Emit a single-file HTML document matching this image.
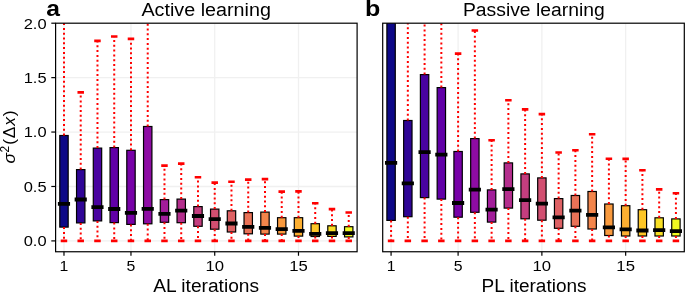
<!DOCTYPE html>
<html><head><meta charset="utf-8"><style>
html,body{margin:0;padding:0;background:#fff;}
svg{display:block;will-change:transform;}
text{font-family:"Liberation Sans",sans-serif;fill:#000;}
.g{stroke:#f0f0f0;stroke-width:1.3;}
.b{stroke:#000;stroke-width:1.2;}
.w{stroke:#ff0000;stroke-width:2.0;stroke-dasharray:2.0 2.8;}
.c{stroke:#ff0000;stroke-width:2.6;}
.m{stroke:#000;stroke-width:3.8;}
.s{fill:none;stroke:#000;stroke-width:1.2;}
.t{stroke:#000;stroke-width:1.2;}
.tl{font-size:14.7px;}
.ti{font-size:17.6px;}
.pl{font-size:22.5px;font-weight:bold;}
.yl text{font-size:17.4px;text-anchor:middle;}
</style></head><body>
<svg width="685" height="292" viewBox="0 0 685 292">
<rect width="685" height="292" fill="#fff"/>
<clipPath id="ca"><rect x="55.60" y="23.2" width="301.50" height="228.55"/></clipPath>
<g clip-path="url(#ca)">
<line x1="63.98" y1="23.2" x2="63.98" y2="251.75" class="g"/>
<line x1="130.97" y1="23.2" x2="130.97" y2="251.75" class="g"/>
<line x1="214.72" y1="23.2" x2="214.72" y2="251.75" class="g"/>
<line x1="298.48" y1="23.2" x2="298.48" y2="251.75" class="g"/>
<line x1="55.60" y1="240.90" x2="357.10" y2="240.90" class="g"/>
<line x1="55.60" y1="186.48" x2="357.10" y2="186.48" class="g"/>
<line x1="55.60" y1="132.05" x2="357.10" y2="132.05" class="g"/>
<line x1="55.60" y1="77.63" x2="357.10" y2="77.63" class="g"/>
<rect x="59.79" y="135.50" width="8.38" height="91.60" fill="#0d0887" class="b"/>
<line x1="63.98" y1="135.50" x2="63.98" y2="18.20" class="w"/>
<line x1="63.98" y1="227.10" x2="63.98" y2="240.90" class="w"/>
<line x1="60.73" y1="240.90" x2="67.22" y2="240.90" class="c"/>
<rect x="76.54" y="169.60" width="8.38" height="53.30" fill="#2f0596" class="b"/>
<line x1="80.72" y1="169.60" x2="80.72" y2="92.40" class="w"/>
<line x1="80.72" y1="222.90" x2="80.72" y2="240.90" class="w"/>
<line x1="77.47" y1="92.40" x2="83.97" y2="92.40" class="c"/>
<line x1="77.47" y1="240.90" x2="83.97" y2="240.90" class="c"/>
<rect x="93.29" y="148.10" width="8.38" height="72.80" fill="#4903a0" class="b"/>
<line x1="97.47" y1="148.10" x2="97.47" y2="40.90" class="w"/>
<line x1="97.47" y1="220.90" x2="97.47" y2="240.90" class="w"/>
<line x1="94.22" y1="40.90" x2="100.72" y2="40.90" class="c"/>
<line x1="94.22" y1="240.90" x2="100.72" y2="240.90" class="c"/>
<rect x="110.04" y="147.60" width="8.38" height="75.00" fill="#6100a7" class="b"/>
<line x1="114.22" y1="147.60" x2="114.22" y2="36.50" class="w"/>
<line x1="114.22" y1="222.60" x2="114.22" y2="240.90" class="w"/>
<line x1="110.97" y1="36.50" x2="117.47" y2="36.50" class="c"/>
<line x1="110.97" y1="240.90" x2="117.47" y2="240.90" class="c"/>
<rect x="126.79" y="150.30" width="8.38" height="74.10" fill="#7801a8" class="b"/>
<line x1="130.97" y1="150.30" x2="130.97" y2="38.90" class="w"/>
<line x1="130.97" y1="224.40" x2="130.97" y2="240.90" class="w"/>
<line x1="127.72" y1="38.90" x2="134.22" y2="38.90" class="c"/>
<line x1="127.72" y1="240.90" x2="134.22" y2="240.90" class="c"/>
<rect x="143.54" y="126.50" width="8.38" height="97.30" fill="#8e0ca4" class="b"/>
<line x1="147.72" y1="126.50" x2="147.72" y2="18.20" class="w"/>
<line x1="147.72" y1="223.80" x2="147.72" y2="240.90" class="w"/>
<line x1="144.47" y1="240.90" x2="150.97" y2="240.90" class="c"/>
<rect x="160.29" y="199.60" width="8.38" height="22.70" fill="#a21d9a" class="b"/>
<line x1="164.47" y1="199.60" x2="164.47" y2="165.60" class="w"/>
<line x1="164.47" y1="222.30" x2="164.47" y2="240.90" class="w"/>
<line x1="161.22" y1="165.60" x2="167.72" y2="165.60" class="c"/>
<line x1="161.22" y1="240.90" x2="167.72" y2="240.90" class="c"/>
<rect x="177.04" y="199.10" width="8.38" height="23.60" fill="#b42e8d" class="b"/>
<line x1="181.22" y1="199.10" x2="181.22" y2="163.60" class="w"/>
<line x1="181.22" y1="222.70" x2="181.22" y2="240.90" class="w"/>
<line x1="177.97" y1="163.60" x2="184.47" y2="163.60" class="c"/>
<line x1="177.97" y1="240.90" x2="184.47" y2="240.90" class="c"/>
<rect x="193.79" y="206.60" width="8.38" height="19.70" fill="#c43e7f" class="b"/>
<line x1="197.97" y1="206.60" x2="197.97" y2="177.20" class="w"/>
<line x1="197.97" y1="226.30" x2="197.97" y2="240.90" class="w"/>
<line x1="194.72" y1="177.20" x2="201.22" y2="177.20" class="c"/>
<line x1="194.72" y1="240.90" x2="201.22" y2="240.90" class="c"/>
<rect x="210.54" y="209.10" width="8.38" height="20.10" fill="#d24f71" class="b"/>
<line x1="214.72" y1="209.10" x2="214.72" y2="182.60" class="w"/>
<line x1="214.72" y1="229.20" x2="214.72" y2="240.90" class="w"/>
<line x1="211.47" y1="182.60" x2="217.97" y2="182.60" class="c"/>
<line x1="211.47" y1="240.90" x2="217.97" y2="240.90" class="c"/>
<rect x="227.29" y="210.80" width="8.38" height="21.20" fill="#de6164" class="b"/>
<line x1="231.47" y1="210.80" x2="231.47" y2="181.70" class="w"/>
<line x1="231.47" y1="232.00" x2="231.47" y2="240.90" class="w"/>
<line x1="228.22" y1="181.70" x2="234.72" y2="181.70" class="c"/>
<line x1="228.22" y1="240.90" x2="234.72" y2="240.90" class="c"/>
<rect x="244.04" y="212.60" width="8.38" height="21.20" fill="#e97257" class="b"/>
<line x1="248.22" y1="212.60" x2="248.22" y2="179.60" class="w"/>
<line x1="248.22" y1="233.80" x2="248.22" y2="240.90" class="w"/>
<line x1="244.97" y1="179.60" x2="251.47" y2="179.60" class="c"/>
<line x1="244.97" y1="240.90" x2="251.47" y2="240.90" class="c"/>
<rect x="260.79" y="212.10" width="8.38" height="22.00" fill="#f3854b" class="b"/>
<line x1="264.98" y1="212.10" x2="264.98" y2="179.10" class="w"/>
<line x1="264.98" y1="234.10" x2="264.98" y2="240.90" class="w"/>
<line x1="261.73" y1="179.10" x2="268.23" y2="179.10" class="c"/>
<line x1="261.73" y1="240.90" x2="268.23" y2="240.90" class="c"/>
<rect x="277.54" y="217.70" width="8.38" height="16.40" fill="#f99a3e" class="b"/>
<line x1="281.73" y1="217.70" x2="281.73" y2="191.60" class="w"/>
<line x1="281.73" y1="234.10" x2="281.73" y2="240.90" class="w"/>
<line x1="278.48" y1="191.60" x2="284.98" y2="191.60" class="c"/>
<line x1="278.48" y1="240.90" x2="284.98" y2="240.90" class="c"/>
<rect x="294.29" y="217.70" width="8.38" height="18.40" fill="#fdaf31" class="b"/>
<line x1="298.48" y1="217.70" x2="298.48" y2="191.40" class="w"/>
<line x1="298.48" y1="236.10" x2="298.48" y2="240.90" class="w"/>
<line x1="295.23" y1="191.40" x2="301.73" y2="191.40" class="c"/>
<line x1="295.23" y1="240.90" x2="301.73" y2="240.90" class="c"/>
<rect x="311.04" y="223.70" width="8.38" height="12.80" fill="#fdc627" class="b"/>
<line x1="315.23" y1="223.70" x2="315.23" y2="203.20" class="w"/>
<line x1="315.23" y1="236.50" x2="315.23" y2="240.90" class="w"/>
<line x1="311.98" y1="203.20" x2="318.48" y2="203.20" class="c"/>
<line x1="311.98" y1="240.90" x2="318.48" y2="240.90" class="c"/>
<rect x="327.79" y="225.80" width="8.38" height="10.60" fill="#f8df25" class="b"/>
<line x1="331.98" y1="225.80" x2="331.98" y2="209.10" class="w"/>
<line x1="331.98" y1="236.40" x2="331.98" y2="240.90" class="w"/>
<line x1="328.73" y1="209.10" x2="335.23" y2="209.10" class="c"/>
<line x1="328.73" y1="240.90" x2="335.23" y2="240.90" class="c"/>
<rect x="344.54" y="226.70" width="8.38" height="10.20" fill="#f0f921" class="b"/>
<line x1="348.73" y1="226.70" x2="348.73" y2="212.50" class="w"/>
<line x1="348.73" y1="236.90" x2="348.73" y2="240.90" class="w"/>
<line x1="345.48" y1="212.50" x2="351.98" y2="212.50" class="c"/>
<line x1="345.48" y1="240.90" x2="351.98" y2="240.90" class="c"/>
<line x1="57.89" y1="203.90" x2="70.06" y2="203.90" class="m"/>
<line x1="74.64" y1="199.50" x2="86.81" y2="199.50" class="m"/>
<line x1="91.39" y1="207.10" x2="103.56" y2="207.10" class="m"/>
<line x1="108.14" y1="209.00" x2="120.31" y2="209.00" class="m"/>
<line x1="124.89" y1="212.90" x2="137.06" y2="212.90" class="m"/>
<line x1="141.64" y1="208.90" x2="153.81" y2="208.90" class="m"/>
<line x1="158.39" y1="213.90" x2="170.56" y2="213.90" class="m"/>
<line x1="175.14" y1="210.70" x2="187.31" y2="210.70" class="m"/>
<line x1="191.89" y1="216.00" x2="204.06" y2="216.00" class="m"/>
<line x1="208.64" y1="219.20" x2="220.81" y2="219.20" class="m"/>
<line x1="225.39" y1="223.50" x2="237.56" y2="223.50" class="m"/>
<line x1="242.14" y1="226.90" x2="254.31" y2="226.90" class="m"/>
<line x1="258.89" y1="227.90" x2="271.06" y2="227.90" class="m"/>
<line x1="275.64" y1="229.10" x2="287.81" y2="229.10" class="m"/>
<line x1="292.39" y1="230.80" x2="304.56" y2="230.80" class="m"/>
<line x1="309.14" y1="233.80" x2="321.31" y2="233.80" class="m"/>
<line x1="325.89" y1="233.10" x2="338.06" y2="233.10" class="m"/>
<line x1="342.64" y1="233.10" x2="354.81" y2="233.10" class="m"/>
</g>
<rect x="55.60" y="23.2" width="301.50" height="228.55" class="s"/>
<line x1="63.98" y1="251.75" x2="63.98" y2="255.75" class="t"/>
<text x="63.98" y="271" class="tl" text-anchor="middle" textLength="8.8" lengthAdjust="spacingAndGlyphs">1</text>
<line x1="130.97" y1="251.75" x2="130.97" y2="255.75" class="t"/>
<text x="130.97" y="271" class="tl" text-anchor="middle" textLength="8.8" lengthAdjust="spacingAndGlyphs">5</text>
<line x1="214.72" y1="251.75" x2="214.72" y2="255.75" class="t"/>
<text x="214.72" y="271" class="tl" text-anchor="middle" textLength="18.6" lengthAdjust="spacingAndGlyphs">10</text>
<line x1="298.48" y1="251.75" x2="298.48" y2="255.75" class="t"/>
<text x="298.48" y="271" class="tl" text-anchor="middle" textLength="18.6" lengthAdjust="spacingAndGlyphs">15</text>
<clipPath id="cb"><rect x="382.70" y="23.2" width="301.60" height="228.55"/></clipPath>
<g clip-path="url(#cb)">
<line x1="391.08" y1="23.2" x2="391.08" y2="251.75" class="g"/>
<line x1="458.10" y1="23.2" x2="458.10" y2="251.75" class="g"/>
<line x1="541.88" y1="23.2" x2="541.88" y2="251.75" class="g"/>
<line x1="625.66" y1="23.2" x2="625.66" y2="251.75" class="g"/>
<rect x="386.89" y="18.50" width="8.38" height="201.90" fill="#0d0887" class="b"/>
<line x1="391.08" y1="18.50" x2="391.08" y2="18.20" class="w"/>
<line x1="391.08" y1="220.40" x2="391.08" y2="240.90" class="w"/>
<line x1="387.83" y1="240.90" x2="394.33" y2="240.90" class="c"/>
<rect x="403.64" y="120.50" width="8.38" height="96.20" fill="#2f0596" class="b"/>
<line x1="407.83" y1="120.50" x2="407.83" y2="18.20" class="w"/>
<line x1="407.83" y1="216.70" x2="407.83" y2="240.90" class="w"/>
<line x1="404.58" y1="240.90" x2="411.08" y2="240.90" class="c"/>
<rect x="420.40" y="74.60" width="8.38" height="123.00" fill="#4903a0" class="b"/>
<line x1="424.59" y1="74.60" x2="424.59" y2="18.20" class="w"/>
<line x1="424.59" y1="197.60" x2="424.59" y2="240.90" class="w"/>
<line x1="421.34" y1="240.90" x2="427.84" y2="240.90" class="c"/>
<rect x="437.16" y="87.60" width="8.38" height="111.50" fill="#6100a7" class="b"/>
<line x1="441.34" y1="87.60" x2="441.34" y2="18.20" class="w"/>
<line x1="441.34" y1="199.10" x2="441.34" y2="240.90" class="w"/>
<line x1="438.09" y1="240.90" x2="444.59" y2="240.90" class="c"/>
<rect x="453.91" y="151.50" width="8.38" height="65.70" fill="#7801a8" class="b"/>
<line x1="458.10" y1="151.50" x2="458.10" y2="53.60" class="w"/>
<line x1="458.10" y1="217.20" x2="458.10" y2="240.90" class="w"/>
<line x1="454.85" y1="53.60" x2="461.35" y2="53.60" class="c"/>
<line x1="454.85" y1="240.90" x2="461.35" y2="240.90" class="c"/>
<rect x="470.67" y="138.60" width="8.38" height="73.70" fill="#8e0ca4" class="b"/>
<line x1="474.86" y1="138.60" x2="474.86" y2="30.50" class="w"/>
<line x1="474.86" y1="212.30" x2="474.86" y2="240.90" class="w"/>
<line x1="471.61" y1="30.50" x2="478.11" y2="30.50" class="c"/>
<line x1="471.61" y1="240.90" x2="478.11" y2="240.90" class="c"/>
<rect x="487.42" y="189.90" width="8.38" height="32.20" fill="#a21d9a" class="b"/>
<line x1="491.61" y1="189.90" x2="491.61" y2="140.20" class="w"/>
<line x1="491.61" y1="222.10" x2="491.61" y2="240.90" class="w"/>
<line x1="488.36" y1="140.20" x2="494.86" y2="140.20" class="c"/>
<line x1="488.36" y1="240.90" x2="494.86" y2="240.90" class="c"/>
<rect x="504.18" y="162.90" width="8.38" height="45.20" fill="#b42e8d" class="b"/>
<line x1="508.37" y1="162.90" x2="508.37" y2="100.20" class="w"/>
<line x1="508.37" y1="208.10" x2="508.37" y2="240.90" class="w"/>
<line x1="505.12" y1="100.20" x2="511.62" y2="100.20" class="c"/>
<line x1="505.12" y1="240.90" x2="511.62" y2="240.90" class="c"/>
<rect x="520.93" y="173.90" width="8.38" height="44.90" fill="#c43e7f" class="b"/>
<line x1="525.12" y1="173.90" x2="525.12" y2="109.40" class="w"/>
<line x1="525.12" y1="218.80" x2="525.12" y2="240.90" class="w"/>
<line x1="521.87" y1="109.40" x2="528.37" y2="109.40" class="c"/>
<line x1="521.87" y1="240.90" x2="528.37" y2="240.90" class="c"/>
<rect x="537.69" y="177.90" width="8.38" height="42.30" fill="#d24f71" class="b"/>
<line x1="541.88" y1="177.90" x2="541.88" y2="114.10" class="w"/>
<line x1="541.88" y1="220.20" x2="541.88" y2="240.90" class="w"/>
<line x1="538.63" y1="114.10" x2="545.13" y2="114.10" class="c"/>
<line x1="538.63" y1="240.90" x2="545.13" y2="240.90" class="c"/>
<rect x="554.44" y="198.60" width="8.38" height="29.70" fill="#de6164" class="b"/>
<line x1="558.63" y1="198.60" x2="558.63" y2="152.50" class="w"/>
<line x1="558.63" y1="228.30" x2="558.63" y2="240.90" class="w"/>
<line x1="555.38" y1="152.50" x2="561.88" y2="152.50" class="c"/>
<line x1="555.38" y1="240.90" x2="561.88" y2="240.90" class="c"/>
<rect x="571.20" y="195.50" width="8.38" height="30.80" fill="#e97257" class="b"/>
<line x1="575.39" y1="195.50" x2="575.39" y2="150.30" class="w"/>
<line x1="575.39" y1="226.30" x2="575.39" y2="240.90" class="w"/>
<line x1="572.14" y1="150.30" x2="578.64" y2="150.30" class="c"/>
<line x1="572.14" y1="240.90" x2="578.64" y2="240.90" class="c"/>
<rect x="587.96" y="191.50" width="8.38" height="37.50" fill="#f3854b" class="b"/>
<line x1="592.14" y1="191.50" x2="592.14" y2="134.20" class="w"/>
<line x1="592.14" y1="229.00" x2="592.14" y2="240.90" class="w"/>
<line x1="588.89" y1="134.20" x2="595.39" y2="134.20" class="c"/>
<line x1="588.89" y1="240.90" x2="595.39" y2="240.90" class="c"/>
<rect x="604.71" y="204.00" width="8.38" height="31.50" fill="#f99a3e" class="b"/>
<line x1="608.90" y1="204.00" x2="608.90" y2="158.70" class="w"/>
<line x1="608.90" y1="235.50" x2="608.90" y2="240.90" class="w"/>
<line x1="605.65" y1="158.70" x2="612.15" y2="158.70" class="c"/>
<line x1="605.65" y1="240.90" x2="612.15" y2="240.90" class="c"/>
<rect x="621.47" y="205.70" width="8.38" height="30.30" fill="#fdaf31" class="b"/>
<line x1="625.66" y1="205.70" x2="625.66" y2="158.90" class="w"/>
<line x1="625.66" y1="236.00" x2="625.66" y2="240.90" class="w"/>
<line x1="622.41" y1="158.90" x2="628.91" y2="158.90" class="c"/>
<line x1="622.41" y1="240.90" x2="628.91" y2="240.90" class="c"/>
<rect x="638.22" y="209.70" width="8.38" height="26.30" fill="#fdc627" class="b"/>
<line x1="642.41" y1="209.70" x2="642.41" y2="170.20" class="w"/>
<line x1="642.41" y1="236.00" x2="642.41" y2="240.90" class="w"/>
<line x1="639.16" y1="170.20" x2="645.66" y2="170.20" class="c"/>
<line x1="639.16" y1="240.90" x2="645.66" y2="240.90" class="c"/>
<rect x="654.98" y="217.80" width="8.38" height="18.20" fill="#f8df25" class="b"/>
<line x1="659.17" y1="217.80" x2="659.17" y2="189.40" class="w"/>
<line x1="659.17" y1="236.00" x2="659.17" y2="240.90" class="w"/>
<line x1="655.92" y1="189.40" x2="662.42" y2="189.40" class="c"/>
<line x1="655.92" y1="240.90" x2="662.42" y2="240.90" class="c"/>
<rect x="671.73" y="218.90" width="8.38" height="17.10" fill="#f0f921" class="b"/>
<line x1="675.92" y1="218.90" x2="675.92" y2="193.30" class="w"/>
<line x1="675.92" y1="236.00" x2="675.92" y2="240.90" class="w"/>
<line x1="672.67" y1="193.30" x2="679.17" y2="193.30" class="c"/>
<line x1="672.67" y1="240.90" x2="679.17" y2="240.90" class="c"/>
<line x1="384.99" y1="162.90" x2="397.17" y2="162.90" class="m"/>
<line x1="401.74" y1="183.30" x2="413.92" y2="183.30" class="m"/>
<line x1="418.50" y1="152.10" x2="430.68" y2="152.10" class="m"/>
<line x1="435.26" y1="154.60" x2="447.43" y2="154.60" class="m"/>
<line x1="452.01" y1="203.00" x2="464.19" y2="203.00" class="m"/>
<line x1="468.77" y1="189.70" x2="480.94" y2="189.70" class="m"/>
<line x1="485.52" y1="209.60" x2="497.70" y2="209.60" class="m"/>
<line x1="502.28" y1="189.10" x2="514.46" y2="189.10" class="m"/>
<line x1="519.03" y1="200.20" x2="531.21" y2="200.20" class="m"/>
<line x1="535.79" y1="203.70" x2="547.97" y2="203.70" class="m"/>
<line x1="552.54" y1="217.40" x2="564.72" y2="217.40" class="m"/>
<line x1="569.30" y1="210.60" x2="581.48" y2="210.60" class="m"/>
<line x1="586.06" y1="214.90" x2="598.23" y2="214.90" class="m"/>
<line x1="602.81" y1="227.30" x2="614.99" y2="227.30" class="m"/>
<line x1="619.57" y1="229.40" x2="631.74" y2="229.40" class="m"/>
<line x1="636.32" y1="230.50" x2="648.50" y2="230.50" class="m"/>
<line x1="653.08" y1="230.10" x2="665.26" y2="230.10" class="m"/>
<line x1="669.83" y1="231.10" x2="682.01" y2="231.10" class="m"/>
</g>
<rect x="382.70" y="23.2" width="301.60" height="228.55" class="s"/>
<line x1="391.08" y1="251.75" x2="391.08" y2="255.75" class="t"/>
<text x="391.08" y="271" class="tl" text-anchor="middle" textLength="8.8" lengthAdjust="spacingAndGlyphs">1</text>
<line x1="458.10" y1="251.75" x2="458.10" y2="255.75" class="t"/>
<text x="458.10" y="271" class="tl" text-anchor="middle" textLength="8.8" lengthAdjust="spacingAndGlyphs">5</text>
<line x1="541.88" y1="251.75" x2="541.88" y2="255.75" class="t"/>
<text x="541.88" y="271" class="tl" text-anchor="middle" textLength="18.6" lengthAdjust="spacingAndGlyphs">10</text>
<line x1="625.66" y1="251.75" x2="625.66" y2="255.75" class="t"/>
<text x="625.66" y="271" class="tl" text-anchor="middle" textLength="18.6" lengthAdjust="spacingAndGlyphs">15</text>
<line x1="51.3" y1="240.90" x2="55.5" y2="240.90" class="t"/>
<text x="46.6" y="246.20" class="tl" text-anchor="end" textLength="22.9" lengthAdjust="spacingAndGlyphs">0.0</text>
<line x1="51.3" y1="186.48" x2="55.5" y2="186.48" class="t"/>
<text x="46.6" y="191.78" class="tl" text-anchor="end" textLength="22.9" lengthAdjust="spacingAndGlyphs">0.5</text>
<line x1="51.3" y1="132.05" x2="55.5" y2="132.05" class="t"/>
<text x="46.6" y="137.35" class="tl" text-anchor="end" textLength="22.9" lengthAdjust="spacingAndGlyphs">1.0</text>
<line x1="51.3" y1="77.63" x2="55.5" y2="77.63" class="t"/>
<text x="46.6" y="82.93" class="tl" text-anchor="end" textLength="22.9" lengthAdjust="spacingAndGlyphs">1.5</text>
<line x1="51.3" y1="23.20" x2="55.5" y2="23.20" class="t"/>
<text x="46.6" y="28.50" class="tl" text-anchor="end" textLength="22.9" lengthAdjust="spacingAndGlyphs">2.0</text>
<text x="206.2" y="15.9" class="ti" text-anchor="middle" textLength="129.5" lengthAdjust="spacingAndGlyphs">Active learning</text>
<text x="533.85" y="15.9" class="ti" text-anchor="middle" textLength="141.8" lengthAdjust="spacingAndGlyphs">Passive learning</text>
<text x="206.2" y="292" class="ti" text-anchor="middle" textLength="105.8" lengthAdjust="spacingAndGlyphs">AL iterations</text>
<text x="534.1" y="292" class="ti" text-anchor="middle" textLength="105.0" lengthAdjust="spacingAndGlyphs">PL iterations</text>
<text x="46.3" y="16.3" class="pl" textLength="13.7" lengthAdjust="spacingAndGlyphs">a</text>
<text x="365.0" y="16.3" class="pl" textLength="15.3" lengthAdjust="spacingAndGlyphs">b</text>
<g transform="translate(15.2,0) rotate(-90)" class="yl">
<text x="-158.35" y="0" font-style="italic">σ</text>
<text x="-149.25" y="-6" style="font-size:12px">2</text>
<text x="-141.75" y="0">(</text>
<text x="-132.35" y="0">Δ</text>
<text x="-121.35" y="0" font-style="italic">x</text>
<text x="-113.3" y="0">)</text>
</g>
</svg>
</body></html>
